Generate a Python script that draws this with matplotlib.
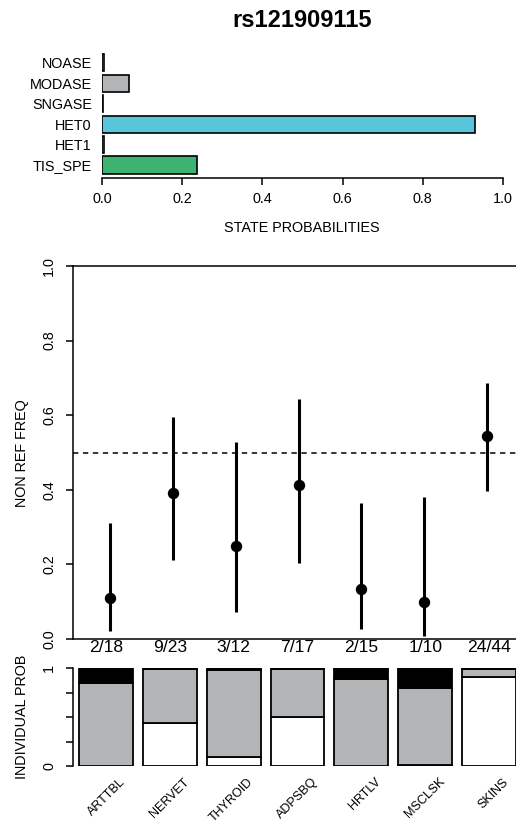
import matplotlib
matplotlib.use("Agg")
import matplotlib.pyplot as plt
import numpy as np

plt.rcParams['font.family'] = ['Liberation Sans', 'DejaVu Sans']
plt.rcParams['font.size'] = 10.4

# ---- data ----
snp_id = "rs121909115"
states = ['NOASE', 'MODASE', 'SNGASE', 'HET0', 'HET1', 'TIS_SPE']
state_prob = [0.003, 0.067, 0.002, 0.932, 0.005, 0.236]
state_colors = ['#B2B4B6', '#B2B4B6', '#B2B4B6', '#58C5DA', '#B2B4B6', '#3CB371']

tissues = ['ARTTBL', 'NERVET', 'THYROID', 'ADPSBQ', 'HRTLV', 'MSCLSK', 'SKINS']
counts = ['2/18', '9/23', '3/12', '7/17', '2/15', '1/10', '24/44']
freq = [0.111, 0.391, 0.250, 0.412, 0.133, 0.100, 0.545]
ci_low = [0.022, 0.212, 0.073, 0.205, 0.027, 0.009, 0.398]
ci_high = [0.312, 0.594, 0.529, 0.644, 0.364, 0.382, 0.687]

# individual probabilities (stacked: white / gray / black)
prob_white = [0.0, 0.444, 0.096, 0.500, 0.004, 0.006, 0.915]
prob_gray = [0.850, 0.553, 0.890, 0.497, 0.887, 0.790, 0.082]
prob_black = [0.150, 0.003, 0.014, 0.003, 0.109, 0.204, 0.003]

W, H = 516, 824
fig = plt.figure(figsize=(W / 100, H / 100), dpi=100)


def px_axes(l, r, t, b):
    return fig.add_axes([l / W, 1 - b / H, (r - l) / W, (b - t) / H])


# ---- top: state probabilities ----
ax1 = px_axes(102.3, 502.7, 49.5, 178.3)
ypos = [0.7 + 1.2 * k for k in range(len(states))][::-1]
ax1.barh(ypos, state_prob, height=1.0, color=state_colors,
         edgecolor='black', linewidth=1.2)
ax1.set_xlim(0, 1)
ax1.set_ylim(-0.08, 7.48)
ax1.set_yticks(ypos)
ax1.set_yticklabels(states)
ax1.tick_params(axis='y', length=0, pad=7.6)
ax1.set_xticks([0, 0.2, 0.4, 0.6, 0.8, 1.0])
ax1.set_xticklabels(['0.0', '0.2', '0.4', '0.6', '0.8', '1.0'])
ax1.tick_params(axis='x', length=5, width=1.1, pad=5)
for s in ['top', 'right', 'left']:
    ax1.spines[s].set_visible(False)
ax1.spines['bottom'].set_linewidth(1.1)

fig.text(302 / W, 1 - 20.7 / H, snp_id, ha='center', va='center',
         fontsize=17, fontweight='bold')
fig.text(302 / W, 1 - 227.5 / H, 'STATE PROBABILITIES', ha='center', va='center')

# ---- middle: non ref freq ----
ax2 = px_axes(73, 524, 266, 639)
x = np.arange(1, len(tissues) + 1)
yerr = [np.array(freq) - np.array(ci_low), np.array(ci_high) - np.array(freq)]
ax2.errorbar(x, freq, yerr=yerr, fmt='o', color='black', ecolor='black',
             elinewidth=2.2, capsize=0, markersize=7.2, zorder=3)
ax2.axhline(0.5, color='black', linestyle=(0, (3.5, 3)), linewidth=1.1)
ax2.set_xlim(1 - 37 / 62.83, 7 + 37 / 62.83)
ax2.set_ylim(0, 1)
ax2.set_xticks([])
ax2.set_yticks([0, 0.2, 0.4, 0.6, 0.8, 1.0])
ax2.set_yticklabels(['0.0', '0.2', '0.4', '0.6', '0.8', '1.0'],
                    rotation=90, va='center')
ax2.tick_params(axis='y', length=5, width=1.1, pad=7)
for s in ax2.spines.values():
    s.set_linewidth(1.1)
fig.text(22 / W, 1 - 453 / H, 'NON REF FREQ', rotation=90,
         ha='center', va='center')

# ---- bottom: individual probabilities ----
ax3 = px_axes(73, 524, 668.3, 766)
pitch = 63.8
ax3.bar(x, prob_white, width=0.846, color='white', edgecolor='black', linewidth=1.3)
ax3.bar(x, prob_gray, width=0.846, bottom=prob_white, color='#B2B4B6',
        edgecolor='black', linewidth=1.3)
ax3.bar(x, prob_black, width=0.846,
        bottom=np.array(prob_white) + np.array(prob_gray),
        color='black', edgecolor='black', linewidth=1.3)
ax3.set_xlim(1 - 33 / pitch, 7 + 35 / pitch)
ax3.set_ylim(0, 1)
ax3.set_xticks([])
ax3.set_yticks([0, 0.25, 0.5, 0.75, 1.0])
ax3.set_yticklabels(['0', '', '', '', '1'], rotation=90, va='center')
ax3.tick_params(axis='y', length=5, width=1.1, pad=7)
for s in ['top', 'right', 'bottom']:
    ax3.spines[s].set_visible(False)
ax3.spines['left'].set_linewidth(1.1)

for xi, c in zip(x, counts):
    ax3.text(xi, 1 + 21 / 97.7, c, ha='center', va='center',
             fontsize=12.6, clip_on=False)

for xi, t in zip(x, tissues):
    ax3.text(xi + 18 / pitch, -14 / 97.7, t, rotation=45, ha='right',
             va='center', rotation_mode='anchor', fontsize=9,
             transform=ax3.get_xaxis_transform(), clip_on=False)

fig.text(22 / W, 1 - 717 / H, 'INDIVIDUAL PROB', rotation=90,
         ha='center', va='center')

fig.savefig('out.png', dpi=100, facecolor='white')
